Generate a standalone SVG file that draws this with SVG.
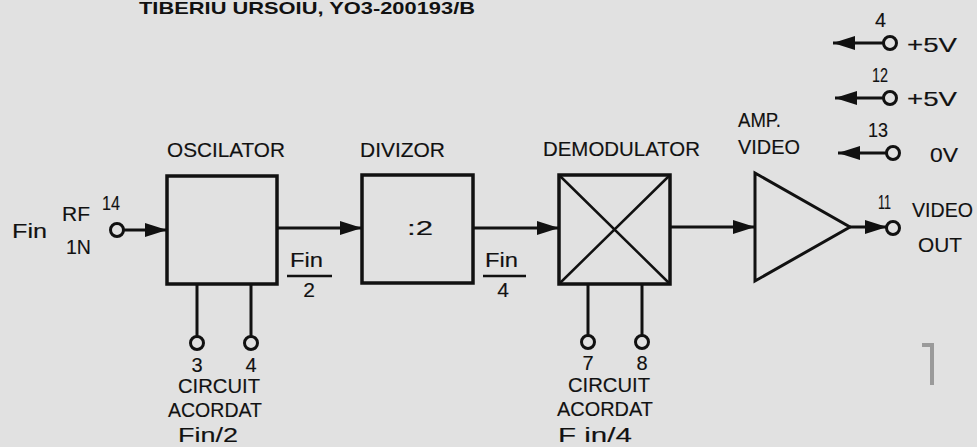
<svg xmlns="http://www.w3.org/2000/svg" width="977" height="447" viewBox="0 0 977 447">
<defs>
<marker id="arr" markerUnits="userSpaceOnUse" markerWidth="24" markerHeight="16" refX="22" refY="7" orient="auto">
<path d="M0,0 L22,7 L0,14 Z" fill="#111"/>
</marker>
<style>
.bg{fill:#e1e1e1}
.box{fill:none;stroke:#111;stroke-width:3.5}
.thin{fill:none;stroke:#111;stroke-width:2.5}
.pin{fill:none;stroke:#111;stroke-width:3}
.wire{fill:none;stroke:#111;stroke-width:3;marker-end:url(#arr)}
.lead{fill:none;stroke:#111;stroke-width:3}
text{font-family:"Liberation Sans",Arial,sans-serif;fill:#111;font-size:21px;stroke:#111;stroke-width:0.15}
.num{font-size:20px}
.hdr{font-weight:bold;font-size:17px;stroke:none}
</style>
</defs>
<rect class="bg" x="0" y="0" width="977" height="447"/>
<text class="hdr" x="139" y="14" textLength="336" lengthAdjust="spacingAndGlyphs">TIBERIU URSOIU, YO3-200193/B</text>

<g id="input">
<text x="12" y="238" font-size="22" textLength="35" lengthAdjust="spacingAndGlyphs">Fin</text>
<text x="62" y="221" textLength="28" lengthAdjust="spacingAndGlyphs">RF</text>
<text x="66" y="254" textLength="25" lengthAdjust="spacingAndGlyphs">1N</text>
<text class="num" x="102" y="210" font-size="18" textLength="18" lengthAdjust="spacingAndGlyphs">14</text>
<circle class="pin" cx="117" cy="230" r="6.5"/>
</g>

<g id="oscilator">
<text x="167" y="157" textLength="118" lengthAdjust="spacingAndGlyphs">OSCILATOR</text>
<rect class="box" x="167" y="176" width="110" height="108"/>
</g>

<g id="divizor">
<text x="360" y="157" textLength="85" lengthAdjust="spacingAndGlyphs">DIVIZOR</text>
<rect class="box" x="362" y="175" width="111" height="108"/>
<text x="407" y="235" font-size="23" textLength="26" lengthAdjust="spacingAndGlyphs">:2</text>
</g>

<g id="demodulator">
<text x="543" y="156" textLength="157" lengthAdjust="spacingAndGlyphs">DEMODULATOR</text>
<rect class="box" x="559" y="175" width="111" height="109"/>
<path class="thin" d="M559,175 L670,284 M670,175 L559,284"/>
</g>

<g id="amp">
<text x="738" y="127" textLength="43" lengthAdjust="spacingAndGlyphs">AMP.</text>
<text x="738" y="154" textLength="62" lengthAdjust="spacingAndGlyphs">VIDEO</text>
<path class="pin" d="M755,173 L850,227 L755,281 Z" stroke-linejoin="miter"/>
</g>

<g id="video-out">
<text class="num" x="878" y="209" font-size="17" textLength="13" lengthAdjust="spacingAndGlyphs">11</text>
<circle class="pin" cx="893" cy="228" r="6.5"/>
<text x="912" y="217" textLength="61" lengthAdjust="spacingAndGlyphs">VIDEO</text>
<text x="918" y="252" textLength="44" lengthAdjust="spacingAndGlyphs">OUT</text>
</g>

<g id="supply-4">
<text class="num" x="875" y="27" textLength="11" lengthAdjust="spacingAndGlyphs">4</text>
<circle class="pin" cx="890" cy="43" r="6.5"/>
<text x="907" y="52" textLength="50" lengthAdjust="spacingAndGlyphs">+5V</text>
</g>
<g id="supply-12">
<text class="num" x="872" y="82" textLength="16" lengthAdjust="spacingAndGlyphs">12</text>
<circle class="pin" cx="890" cy="98" r="6.5"/>
<text x="907" y="106" textLength="50" lengthAdjust="spacingAndGlyphs">+5V</text>
</g>
<g id="supply-13">
<text class="num" x="868" y="137" textLength="20" lengthAdjust="spacingAndGlyphs">13</text>
<circle class="pin" cx="893" cy="153" r="6.5"/>
<text x="930" y="162" textLength="28" lengthAdjust="spacingAndGlyphs">0V</text>
</g>

<g id="osc-tuning">
<circle class="pin" cx="197" cy="343" r="6.5"/>
<circle class="pin" cx="251" cy="343" r="6.5"/>
<text class="num" x="197" y="372" text-anchor="middle">3</text>
<text class="num" x="251" y="372" text-anchor="middle">4</text>
<text x="178" y="393" textLength="82" lengthAdjust="spacingAndGlyphs">CIRCUIT</text>
<text x="168" y="417" textLength="94" lengthAdjust="spacingAndGlyphs">ACORDAT</text>
<text x="178" y="442" textLength="60" lengthAdjust="spacingAndGlyphs">Fin/2</text>
</g>

<g id="demod-tuning">
<circle class="pin" cx="588" cy="342" r="6.5"/>
<circle class="pin" cx="642" cy="342" r="6.5"/>
<text class="num" x="588" y="370" text-anchor="middle">7</text>
<text class="num" x="642" y="370" text-anchor="middle">8</text>
<text x="568" y="392" textLength="82" lengthAdjust="spacingAndGlyphs">CIRCUIT</text>
<text x="557" y="416" textLength="96" lengthAdjust="spacingAndGlyphs">ACORDAT</text>
<text x="558" y="442" textLength="74" lengthAdjust="spacingAndGlyphs">F in/4</text>
</g>

<g id="connectors">
<line class="wire" x1="124" y1="230" x2="167" y2="230"/>
<line class="wire" x1="277" y1="228" x2="362" y2="228"/>
<line class="wire" x1="473" y1="228" x2="559" y2="228"/>
<line class="wire" x1="670" y1="227" x2="755" y2="227"/>
<line class="wire" x1="850" y1="227" x2="887" y2="227"/>
<line class="wire" x1="883" y1="43" x2="833" y2="43"/>
<line class="wire" x1="883" y1="98" x2="835" y2="98"/>
<line class="wire" x1="886" y1="153" x2="838" y2="153"/>
<line class="lead" x1="197" y1="284" x2="197" y2="336"/>
<line class="lead" x1="251" y1="284" x2="251" y2="336"/>
<line class="lead" x1="588" y1="284" x2="588" y2="335"/>
<line class="lead" x1="642" y1="284" x2="642" y2="335"/>
</g>

<g id="fractions">
<text x="290" y="267" font-size="20" textLength="33" lengthAdjust="spacingAndGlyphs">Fin</text>
<line class="thin" x1="287" y1="276" x2="332" y2="276"/>
<text x="309" y="297" font-size="20" text-anchor="middle">2</text>
<text x="485" y="267" font-size="20" textLength="33" lengthAdjust="spacingAndGlyphs">Fin</text>
<line class="thin" x1="483" y1="276" x2="526" y2="276"/>
<text x="503" y="297" font-size="20" text-anchor="middle">4</text>
</g>

<path d="M922,345 L932,345 L932,385" fill="none" stroke="#9a9a9a" stroke-width="4"/>
</svg>
